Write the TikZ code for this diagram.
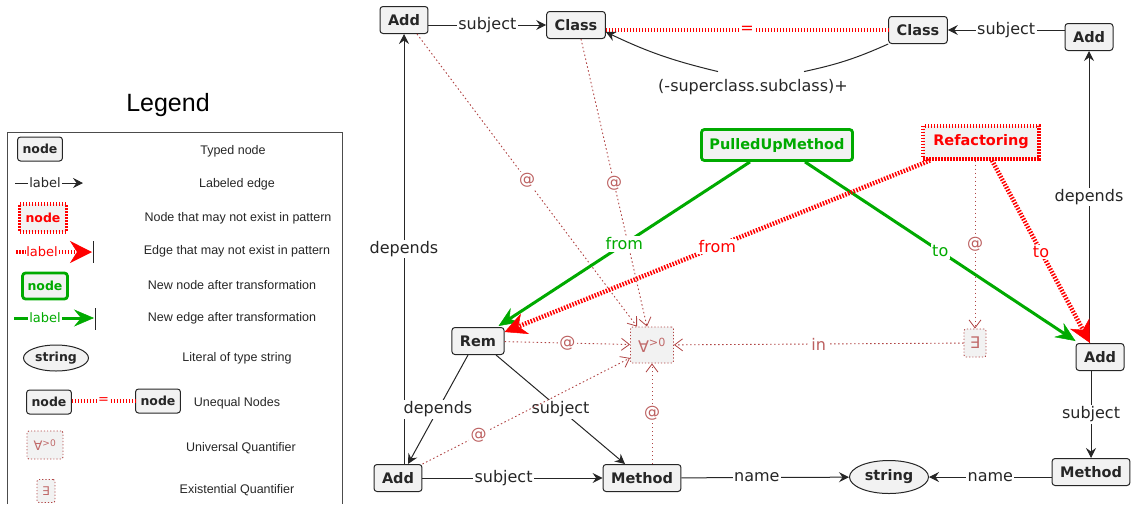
\documentclass[tikz,border=0pt]{standalone}
\usepackage{fontspec}
\setmainfont{DejaVu Sans}
\newfontfamily\legfont{Liberation Sans}
\usetikzlibrary{arrows.meta,shapes.geometric}
\definecolor{qred}{HTML}{B04444}
\definecolor{ngreen}{HTML}{00AA00}
\definecolor{nfill}{HTML}{F2F2F2}
\tikzset{
	typed/.style={draw=black!85, fill=nfill, rounded corners=3pt, line width=1pt, font=\bfseries\fontsize{14.5}{16}\selectfont, text=black!85, inner xsep=8pt, minimum height=27pt},
	maybe/.style={typed, draw=red, text=red, line width=4pt, dash pattern=on 1.5pt off 1.5pt, rounded corners=0pt, inner xsep=10pt, minimum height=33pt},
	newnode/.style={typed, draw=ngreen, text=ngreen, line width=2.8pt, minimum height=31pt},
	lit/.style={typed, ellipse, inner sep=0pt, minimum width=79pt, minimum height=33pt},
	quant/.style={draw=qred, fill=nfill, dash pattern=on 1.2pt off 2pt, line width=0.9pt, rounded corners=2pt, text=qred!80, font=\fontsize{16}{18}\selectfont, inner sep=1pt},
	lbl/.style={fill=white, inner sep=1.5pt, font=\fontsize{16}{18}\selectfont, text=black!85},
	qlbl/.style={lbl, text=qred!85},
	edge/.style={draw=black!85, line width=1pt, -{Stealth[length=10pt,width=10pt,inset=3.5pt]}},
	qedge/.style={draw=qred, line width=0.9pt, dash pattern=on 1.5pt off 2.5pt, -{Straight Barb[length=8pt,width=12pt,line width=0.8pt]}},
	maybeedge/.style={draw=red, line width=4.5pt, dash pattern=on 1.5pt off 1.5pt, -{Stealth[length=22pt,width=22pt,inset=7pt,line width=0.5pt]}},
	newedge/.style={draw=ngreen, line width=3pt, -{Stealth[length=20pt,width=17pt,inset=7pt,line width=0.5pt]}},
	uneq/.style={draw=red, line width=4.5pt, dash pattern=on 1.5pt off 1.5pt},
	% legend
	lnode/.style={typed, font=\bfseries\fontsize{12.5}{14}\selectfont, inner xsep=5pt, minimum height=24pt},
	desc/.style={font=\legfont\fontsize{12.5}{14}\selectfont, text=black!85},
	llbl/.style={inner sep=1pt, font=\fontsize{13}{14}\selectfont}
}
\begin{document}
\begin{tikzpicture}[x=1pt,y=-1pt]
	\useasboundingbox (0,0) rectangle (1131,504);
	
	% legend
	\node[font=\legfont\fontsize{25}{28}\selectfont] (legtitle) at (168,105) {Legend};
	\draw[black!70, line width=1pt] (7,504) -- (7,132) -- (342,132) -- (342,504);
	\node[lnode] (lg1) at (40,149) {node};
	\node[llbl, text=black!85] (lg2) at (45,183) {label};
	\coordinate (lg2a) at (15,183); \coordinate (lg2b) at (83,183);
	\draw[black!85, line width=1pt] (lg2a) -- (lg2);
	\draw[edge] (lg2) -- (lg2b);
	\node[lnode, maybe, font=\bfseries\fontsize{12.5}{14}\selectfont, line width=3.5pt, inner xsep=6pt, minimum height=28pt] (lg3) at (43,218) {node};
	\node[llbl, text=red] (lg4) at (42,252) {label};
	\coordinate (lg4a) at (16,252); \coordinate (lg4b) at (92,252);
	\draw[uneq, line width=3.5pt] (lg4a) -- (lg4);
	\draw[maybeedge, line width=3.5pt] (lg4) -- (lg4b);
	\draw[black!85] (93,241) -- (93,263);
	\node[lnode, newnode, font=\bfseries\fontsize{12.5}{14}\selectfont, inner xsep=5pt, minimum height=26pt] (lg5) at (45,286) {node};
	\node[llbl, text=ngreen] (lg6) at (45,318) {label};
	\coordinate (lg6a) at (14,318); \coordinate (lg6b) at (94,318);
	\draw[newedge, -] (lg6a) -- (lg6);
	\draw[newedge] (lg6) -- (lg6b);
	\draw[black!85] (95,308) -- (95,330);
	\node[lit, font=\bfseries\fontsize{12.5}{14}\selectfont, minimum width=65pt, minimum height=26pt] (lg7) at (56,358) {string};
	\node[lnode] (lg8a) at (49,402) {node};
	\node[lnode] (lg8b) at (158,401) {node};
	\draw[uneq, line width=3.5pt] (lg8a.east |- lg8b) -- node[llbl, fill=white, text=red]{=} (lg8b);
	\node[quant, minimum width=36pt, minimum height=28pt, font=\fontsize{13}{14}\selectfont] (lg9) at (45,445) {∀\textsuperscript{>0}};
	\node[quant, minimum width=18pt, minimum height=23pt, font=\fontsize{12}{14}\selectfont] (lg10) at (46,491) {∃};
	\foreach \i/\x/\y/\t in {1/233/151/Typed node, 2/237/184/Labeled edge, 3/238/218/Node that may not exist in pattern,
		4/237/251/Edge that may not exist in pattern, 5/232/285/New node after transformation, 6/232/318/New edge after transformation,
		7/237/358/Literal of type string, 8/237/403/Unequal Nodes, 9/241/448/Universal Quantifier, 10/237/490/Existential Quantifier}
		\node[desc] (d\i) at (\x,\y) {\t};
	
	% pattern
	\node[typed] (a1) at (404,20) {Add};
	\node[typed] (c1) at (576,25) {Class};
	\node[typed] (c2) at (918,30) {Class};
	\node[typed] (a2) at (1089,37) {Add};
	\node[newnode] (pum) at (777,145) {PulledUpMethod};
	\node[maybe] (refac) at (981,142) {Refactoring};
	\node[typed] (rem) at (478,341) {Rem};
	\node[quant, minimum width=43pt, minimum height=36pt] (all) at (652,345) {∀\textsuperscript{>0}};
	\node[quant, minimum width=22pt, minimum height=28pt] (ex) at (975,343) {∃};
	\node[typed] (a3) at (1100,357) {Add};
	\node[typed] (a4) at (398,478) {Add};
	\node[typed] (m1) at (642,478) {Method};
	\node[lit] (str) at (889,477) {string};
	\node[typed] (m2) at (1091,472) {Method};
	\node[lbl, fill=none] (closure) at (753,87) {(-superclass.subclass)+};
	
	\draw[edge] (a1.east |- c1) -- node[lbl]{subject} (c1);
	\draw[uneq] (c1.east |- c2) -- node[lbl, text=red, inner sep=1pt]{=} (c2);
	\draw[draw=black!85, line width=1pt] (c2.south west) to[bend left=6] ([xshift=51pt,yshift=6pt]closure.north);
	\draw[edge] ([xshift=-35pt,yshift=6pt]closure.north) to[bend left=6] ([yshift=-7pt]c1.east);
	\draw[edge] (a2.west |- c2) -- node[lbl]{subject} (c2);
	\draw[edge] (a3.north -| a2) -- node[lbl]{depends} (a2);
	\draw[edge] (a4.north -| a1) -- node[lbl]{depends} (a1);
	\draw[edge] ([xshift=-10pt]rem.south) -- node[lbl]{depends} ([xshift=10pt]a4.north);
	\draw[edge] ([xshift=18pt]rem.south) -- node[lbl]{subject} ([xshift=-17pt]m1.north);
	\draw[edge] (a4) -- node[lbl, pos=0.45]{subject} (m1);
	\draw[edge] (m1) -- node[lbl, pos=0.45]{name} (str);
	\draw[edge] (m2.west |- str) -- node[lbl]{name} (str);
	\draw[edge] (a3.south -| m2) -- node[lbl]{subject} (m2);
	
	\draw[qedge] ([xshift=13pt]a1.south) -- node[qlbl]{@} ([xshift=-15pt]all.north);
	\draw[qedge] ([xshift=5pt]c1.south) -- node[qlbl]{@} ([xshift=-5pt]all.north);
	\draw[qedge] (rem) -- node[qlbl]{@} (all);
	\draw[qedge] (a4.north east) -- node[qlbl, pos=0.27]{@} ([yshift=-13pt]all.west);
	\draw[qedge] (m1.north -| all) -- node[qlbl]{@} (all);
	\draw[qedge] (ex) -- node[qlbl]{in} (all);
	\draw[qedge] (refac.south -| ex) -- node[qlbl]{@} (ex);
	
	\draw[newedge] ([xshift=-27pt]pum.south) -- node[lbl, text=ngreen]{from} ([xshift=-6pt,yshift=1pt]rem.north east);
	\draw[newedge] ([xshift=28pt]pum.south) -- node[lbl, text=ngreen]{to} ([yshift=2pt]a3.north west);
	\draw[maybeedge] ([xshift=-51pt]refac.south) -- node[lbl, text=red]{from} ([yshift=-5pt]rem.north east);
	\draw[maybeedge] ([xshift=11pt]refac.south) -- node[lbl, text=red]{to} ([xshift=-10pt]a3.north);
	
\end{tikzpicture}
\end{document}
